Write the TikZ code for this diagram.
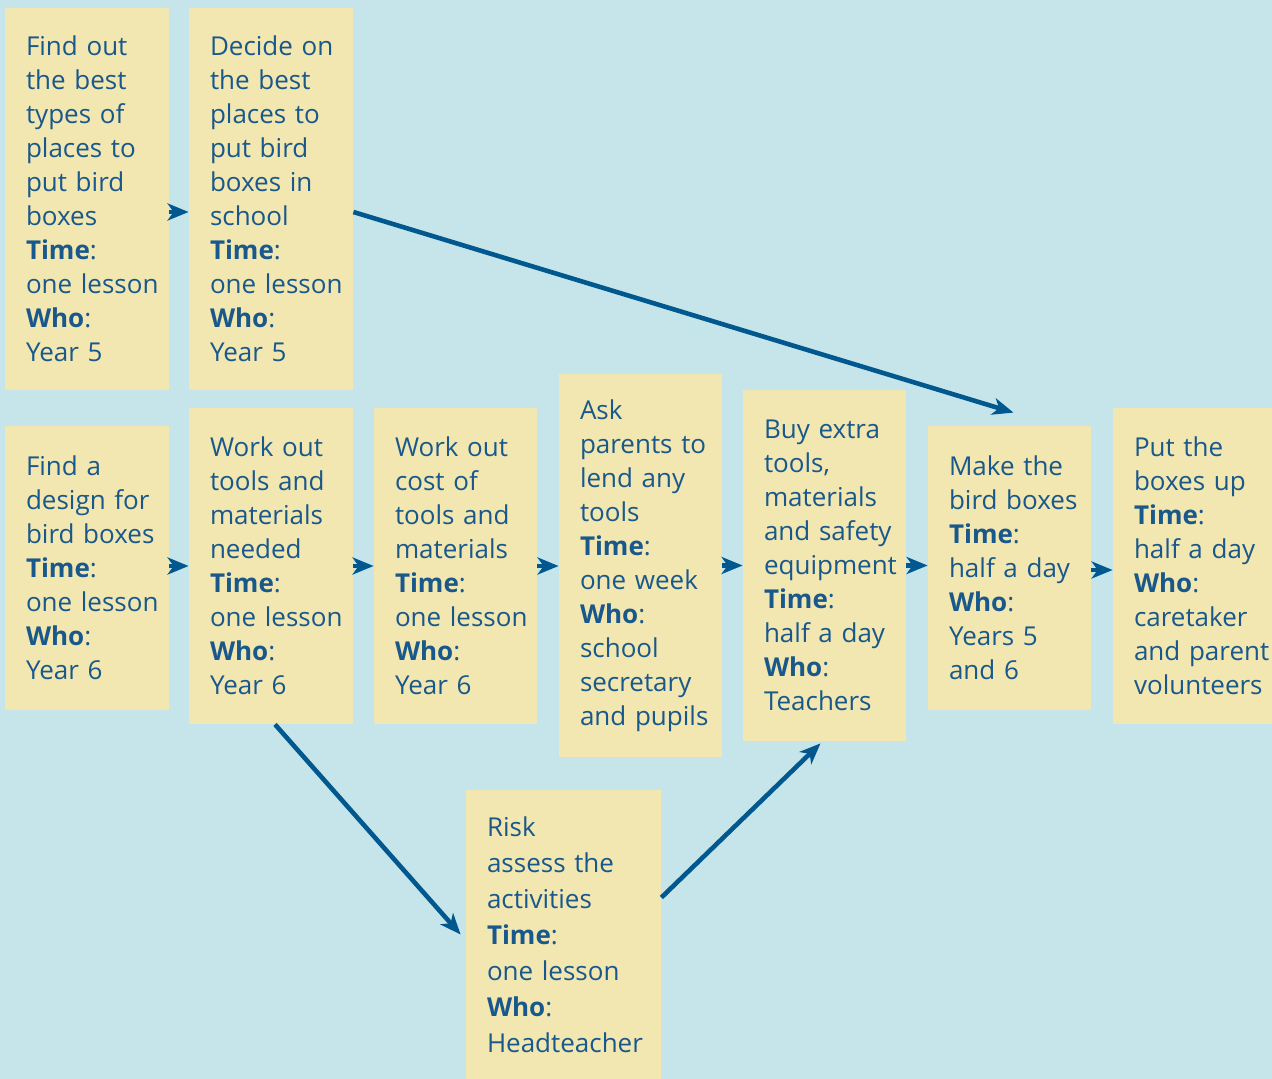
\documentclass[tikz,border=0pt]{standalone}
\usepackage{fontspec}
\setmainfont{Open Sans}
\usepackage{tikz}
\usetikzlibrary{positioning, arrows.meta}
\usepackage{xcolor}
\definecolor{skyBg}{HTML}{C6E5EB}
\definecolor{noteYellow}{HTML}{F2E6B1}
\definecolor{inkBlue}{HTML}{18588A}
\definecolor{arrowBlue}{HTML}{00588F}

\begin{document}
\begin{tikzpicture}[x=0.5pt, y=-0.5pt,
    task/.style 2 args={rectangle, fill=noteYellow, text=inkBlue, inner sep=0pt, minimum width=#1*0.5pt, minimum height=#2*0.5pt, text width=#1*0.5pt, align=left, font=\fontsize{13}{17}\selectfont, execute at begin node={\leftskip=10.5pt}},
    flow/.style={draw=arrowBlue, line width=2.3pt, -{Stealth[length=10.5pt, width=8.5pt, inset=3pt]}}]
    % background
    \fill[skyBg] (0,0) rectangle (1272,1079);
    \useasboundingbox (0,0) rectangle (1272,1079);
    % top row
    \node[task={164}{382}] (types) at (87,199) {Find out\\the best\\types of\\places to\\put bird\\boxes\\\textbf{Time}:\\one lesson\\\textbf{Who}:\\Year 5};
    \node[task={164}{382}] (places) at (271,199) {Decide on\\the best\\places to\\put bird\\boxes in\\school\\\textbf{Time}:\\one lesson\\\textbf{Who}:\\Year 5};
    % main row
    \node[task={164}{284}] (design) at (87,568) {Find a\\design for\\bird boxes\\\textbf{Time}:\\one lesson\\\textbf{Who}:\\Year 6};
    \node[task={164}{316}] (tools) at (271,566) {Work out\\tools and\\materials\\needed\\\textbf{Time}:\\one lesson\\\textbf{Who}:\\Year 6};
    \node[task={163}{316}] (cost) at (455.5,566) {Work out\\cost of\\tools and\\materials\\\textbf{Time}:\\one lesson\\\textbf{Who}:\\Year 6};
    \node[task={163}{383}] (lend) at (640.5,565.5) {Ask\\parents to\\lend any\\tools\\\textbf{Time}:\\one week\\\textbf{Who}:\\school\\secretary\\and pupils};
    \node[task={163}{351}] (buy) at (824.5,565.5) {Buy extra\\tools,\\materials\\and safety\\equipment\\\textbf{Time}:\\half a day\\\textbf{Who}:\\Teachers};
    \node[task={163}{284}] (make) at (1009.5,568) {Make the\\bird boxes\\\textbf{Time}:\\half a day\\\textbf{Who}:\\Years 5\\and 6};
    \node[task={159}{316}] (putup) at (1192.5,566) {Put the\\boxes up\\\textbf{Time}:\\half a day\\\textbf{Who}:\\caretaker\\and parent\\volunteers};
    % risk box
    \node[task={195}{289}, font=\fontsize{13}{18}\selectfont] (risk) at (563.5,934.5) {Risk\\assess the\\activities\\\textbf{Time}:\\one lesson\\\textbf{Who}:\\Headteacher};
    % arrows
    \draw[flow] ([yshift=-6.5pt]types.east) -- ([yshift=-6.5pt]places.west);
    \draw[flow] ([yshift=-6.5pt]places.east) -- ([shift={(2pt,6.5pt)}]make.north);
    \draw[flow] ([yshift=1pt]design.east) -- ([yshift=1pt]design.east -| tools.west);
    \draw[flow] (tools.east) -- (tools.east -| cost.west);
    \draw[flow] (cost.east) -- (cost.east -| lend.west);
    \draw[flow] (lend.east) -- (lend.east -| buy.west);
    \draw[flow] (buy.east) -- (buy.east -| make.west);
    \draw[flow] ([yshift=-1pt]make.east) -- ([yshift=-1pt]make.east -| putup.west);
    \draw[flow] ([xshift=2pt]tools.south) -- ([xshift=-2.5pt]risk.west);
    \draw[flow] ([yshift=18.5pt]risk.east) -- ([shift={(-2pt,-1pt)}]buy.south);
\end{tikzpicture}
\end{document}
